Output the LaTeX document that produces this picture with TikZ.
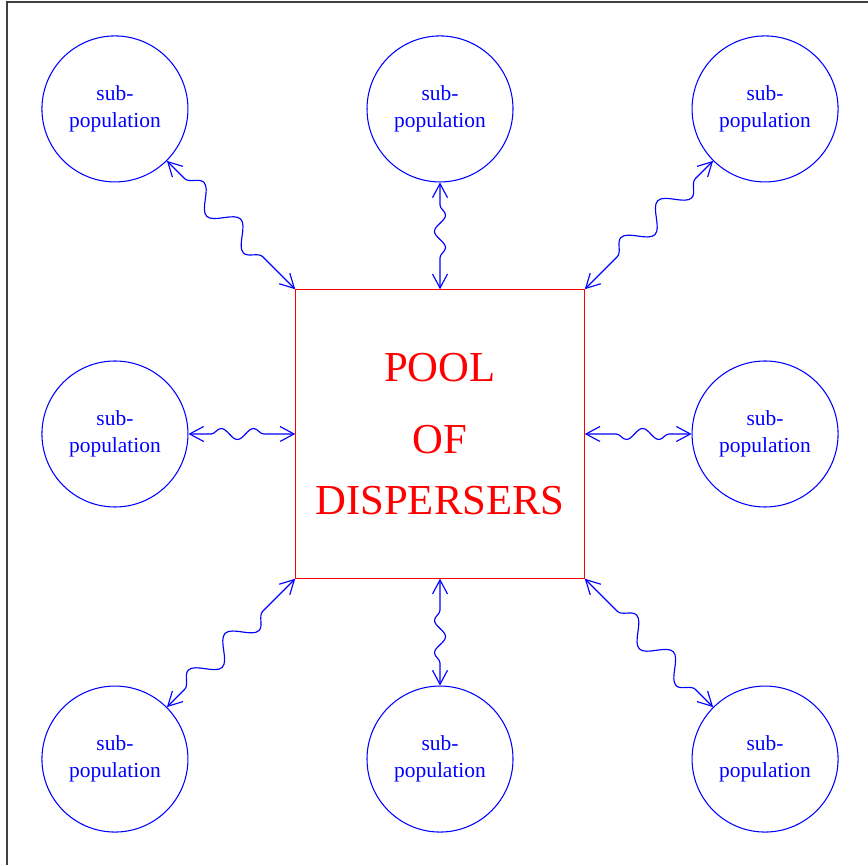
\documentclass[tikz,border=0pt]{standalone}
\usepackage{fontspec}
\setmainfont{Liberation Serif}
\usepackage{tikz}
\usetikzlibrary{arrows.meta,positioning,calc,decorations.pathmorphing}
\tikzset{
  snode/.style={circle,draw=blue,line width=0.6pt,text=blue,minimum size=2.92cm,inner sep=1pt,align=center,font=\fontsize{12.2}{15.2}\selectfont},
  pnode/.style={rectangle,draw=red,line width=0.6pt,text=red,minimum size=5.77cm,inner sep=0pt,align=center,font=\fontsize{24.3}{35}\selectfont},
  se/.style={{Straight Barb[length=2.8mm,width=3mm]}-{Straight Barb[length=2.8mm,width=3mm]},blue,line width=0.65pt,
    decorate,decoration={snake,segment length=6.5mm,amplitude=1.1mm,pre length=4.5mm,post length=4.5mm}},
  dse/.style={se,decoration={snake,segment length=10.4mm,amplitude=2.2mm,pre length=5mm,post length=4.5mm}}
}

\begin{document}
\begin{tikzpicture}[node distance=2.135cm]
\useasboundingbox (0,0) rectangle (17.36,17.30);
\draw[black!75,line width=0.6pt] (0.14,0) -- (0.14,17.26) -- (17.36,17.26);
\node[pnode] (P) at (8.8,8.62) {POOL\\[6pt] OF\\ DISPERSERS};
\node[snode, left=of P] (W) {sub-\\population};
\node[snode, right=of P] (E) {sub-\\population};
\node[snode, above=of P] (N) {sub-\\population};
\node[snode, below=of P] (S) {sub-\\population};
\node[snode] (NW) at (W |- N) {sub-\\population};
\node[snode] (NE) at (E |- N) {sub-\\population};
\node[snode] (SW) at (W |- S) {sub-\\population};
\node[snode] (SE) at (E |- S) {sub-\\population};
\draw[se] (W.east) -- (P.west);
\draw[se] (E.west) -- (P.east);
\draw[se] (N.south) -- (P.north);
\draw[se] (S.north) -- (P.south);
\draw[dse] (NW.south east) -- (P.north west);
\draw[dse] (NE.south west) -- (P.north east);
\draw[dse] (SW.north east) -- (P.south west);
\draw[dse] (SE.north west) -- (P.south east);
\end{tikzpicture}
\end{document}
